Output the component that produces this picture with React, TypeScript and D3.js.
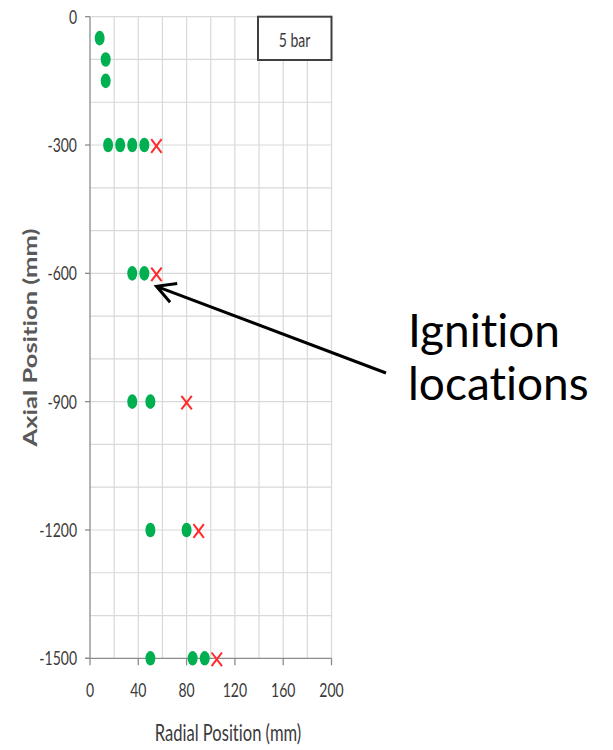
import React from "react";
import * as d3 from "d3";

// Green circles: tested positions without ignition
const noIgnitionRadial = [8, 13, 13, 15, 25, 35, 45, 35, 45, 35, 50, 50, 80, 50, 85, 95];
const noIgnitionAxial = [-50, -100, -150, -300, -300, -300, -300, -600, -600, -900, -900, -1200, -1200, -1500, -1500, -1500];

// Red crosses: ignition locations
const ignitionRadial = [55, 55, 80, 90, 105];
const ignitionAxial = [-300, -600, -900, -1200, -1500];

const xTicks = [0, 40, 80, 120, 160, 200];
const xGrid = [20, 40, 60, 80, 100, 120, 140, 160, 180, 200];
const yTicks = [0, -300, -600, -900, -1200, -1500];
const yGrid = [0, -100, -200, -300, -400, -500, -600, -700, -800, -900, -1000, -1100, -1200, -1300, -1400];

const legendLabel = "5 bar";
const xTitle = "Radial Position (mm)";
const yTitle = "Axial Position (mm)";
const noteLines = ["Ignition", "locations"];

const W = 613;
const H = 750;
const FONT = "Lato, 'Open Sans', sans-serif";
const SX = 0.7; // horizontal compression of the chart body

export default function App() {
  const x = d3.scaleLinear().domain([0, 200]).range([90, 331.5]);
  const y = d3.scaleLinear().domain([0, -1500]).range([16.7, 658.3]);

  const axisColor = "#8c8c8c";
  const gridColor = "#d9d9d9";
  const textColor = "#3a3a3a";

  const tipX = x(55);
  const tipY = y(-600) + 13;
  const tailX = 386;
  const tailY = 373;
  const ang = Math.atan2(tailY - tipY, tailX - tipX);
  const headLen = 21;
  const spread = 0.5;
  const h1 = [tipX + headLen * Math.cos(ang - spread), tipY + headLen * Math.sin(ang - spread)];
  const h2 = [tipX + headLen * Math.cos(ang + spread), tipY + headLen * Math.sin(ang + spread)];

  return (
    <svg
      width={W}
      height={H}
      style={{ position: "absolute", left: 0, top: 0, background: "#fff", fontVariantLigatures: "none" }}
      fontFamily={FONT}
    >
      {/* grid */}
      {xGrid.map((v) => (
        <line key={"gx" + v} x1={x(v)} x2={x(v)} y1={y(0)} y2={y(-1500)} stroke={gridColor} strokeWidth={1.2} />
      ))}
      {yGrid.map((v) => (
        <line key={"gy" + v} x1={x(0)} x2={x(200)} y1={y(v)} y2={y(v)} stroke={gridColor} strokeWidth={1.2} />
      ))}

      {/* axes */}
      <line x1={x(0)} x2={x(0)} y1={y(0)} y2={y(-1500)} stroke={axisColor} strokeWidth={1.3} />
      <line x1={x(0) - 5} x2={x(200)} y1={y(-1500)} y2={y(-1500)} stroke={axisColor} strokeWidth={1.3} />
      {yTicks.map((v) => (
        <line key={"ty" + v} x1={x(0) - 5} x2={x(0)} y1={y(v)} y2={y(v)} stroke={axisColor} strokeWidth={1.3} />
      ))}
      {xTicks.map((v) => (
        <line key={"tx" + v} x1={x(v)} x2={x(v)} y1={y(-1500)} y2={y(-1500) + 7} stroke={axisColor} strokeWidth={1.3} />
      ))}

      {/* tick labels */}
      {yTicks.map((v) => (
        <text
          key={"ly" + v}
          transform={`translate(${x(0) - 13},${y(v) + 7}) scale(${SX},1)`}
          textAnchor="end"
          fontSize={20}
          fill={textColor}
        >
          {v}
        </text>
      ))}
      {xTicks.map((v) => (
        <text
          key={"lx" + v}
          transform={`translate(${x(v)},${y(-1500) + 39}) scale(${SX},1)`}
          textAnchor="middle"
          fontSize={20}
          fill={textColor}
        >
          {v}
        </text>
      ))}

      {/* axis titles */}
      <text
        transform={`translate(228,741) scale(0.72,1)`}
        textAnchor="middle"
        fontSize={23}
        fill={textColor}
      >
        {xTitle}
      </text>
      <text
        transform={`translate(37,${(y(0) + y(-1500)) / 2}) rotate(-90) scale(1,0.78)`}
        textAnchor="middle"
        fontSize={25.5}
        fontWeight="bold"
        fill="#595959"
      >
        {yTitle}
      </text>

      {/* legend box */}
      <rect x={258} y={y(0)} width={73.5} height={43.3} fill="#fff" stroke="#404040" strokeWidth={2} />
      <text
        transform={`translate(294.5,46.5) scale(${SX},1)`}
        textAnchor="middle"
        fontSize={20}
        fill={textColor}
      >
        {legendLabel}
      </text>

      {/* markers */}
      {noIgnitionRadial.map((r, i) => (
        <ellipse key={"g" + i} cx={x(r)} cy={y(noIgnitionAxial[i])} rx={5} ry={7.3} fill="#00b050" />
      ))}
      {ignitionRadial.map((r, i) => {
        const cx = x(r);
        const cy = y(ignitionAxial[i]) + 1;
        const hw = 5.2;
        const hh = 6.8;
        return (
          <g key={"r" + i} stroke="#ff2a2a" strokeWidth={2}>
            <line x1={cx - hw} y1={cy - hh} x2={cx + hw} y2={cy + hh} />
            <line x1={cx + hw} y1={cy - hh} x2={cx - hw} y2={cy + hh} />
          </g>
        );
      })}

      {/* annotation */}
      <line x1={tailX} y1={tailY} x2={tipX} y2={tipY} stroke="#000" strokeWidth={3} />
      <polyline
        points={`${h1[0]},${h1[1]} ${tipX},${tipY} ${h2[0]},${h2[1]}`}
        fill="none"
        stroke="#000"
        strokeWidth={3}
      />
      {noteLines.map((t, i) => (
        <text key={t} x={408} y={347 + i * 53} fontSize={46} fill="#000" style={{ fontVariantLigatures: "none" }}>
          {t}
        </text>
      ))}
    </svg>
  );
}
